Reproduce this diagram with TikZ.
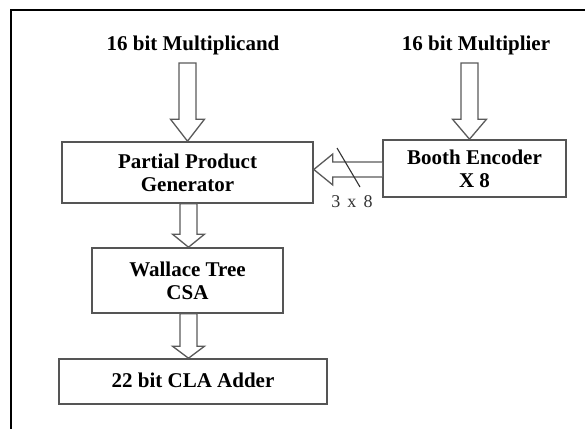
\documentclass[tikz,border=0pt]{standalone}
\usepackage{fontspec}
\setmainfont{Liberation Serif}
\usetikzlibrary{calc}
\definecolor{boxgray}{HTML}{555555}
\definecolor{arrgray}{HTML}{5A5A5A}
\tikzset{
  blockbox/.style={draw=boxgray, line width=1.6pt, rectangle, inner sep=0pt, align=center,
     font=\fontsize{21}{23}\selectfont\bfseries},
  toplabel/.style={font=\fontsize{21}{23}\selectfont\bfseries, inner sep=0pt},
  blk/.style={draw=arrgray, line width=1.3pt, fill=white, line join=miter},
  slashline/.style={draw=black!80, line width=1.1pt},
  buslabel/.style={font=\fontsize{18}{20}\selectfont, inner sep=0pt, color=black!80}
}
% vertical hollow block arrow: #1 start (x taken from here), #2 tip, #3 head length, #4 shaft half width, #5 head half width
\newcommand{\vblockarrow}[5]{%
  \draw[blk] let \p1=(#1), \p2=(#2) in
    (\x1-#4pt,\y1) -- (\x1+#4pt,\y1) -- (\x1+#4pt,\y2+#3pt) -- (\x1+#5pt,\y2+#3pt)
    -- (\x1,\y2) -- (\x1-#5pt,\y2+#3pt) -- (\x1-#4pt,\y2+#3pt) -- cycle;}
\begin{document}
\begin{tikzpicture}[x=1pt,y=-1pt]
\useasboundingbox (0,0) rectangle (585,428);
\fill[white] (0,0) rectangle (585,428);
% outer frame (only left and top edges visible)
\draw[line width=2.8pt, black] (11,430) -- (11,10) -- (587,10);

% labels
\node[toplabel] (mcand) at (193,45) {16 bit Multiplicand};
\node[toplabel] (mplier) at (476,45) {16 bit Multiplier};

% boxes
\node[blockbox, minimum width=251pt, minimum height=61pt] (ppg) at (187.5,172.5) {Partial Product\\Generator};
\node[blockbox, minimum width=183pt, minimum height=57pt] (booth) at (474.5,168.5) {Booth Encoder\\X 8};
\node[blockbox, minimum width=191pt, minimum height=65pt] (wal) at (187.5,280.5) {Wallace Tree\\CSA};
\node[blockbox, minimum width=268pt, minimum height=45pt] (cla) at (193,381.5) {\raisebox{3pt}{22 bit CLA Adder}};

% arrow anchor coordinates
\coordinate (a1) at (187.5,63);
\coordinate (a2) at (469.5,63);
\coordinate (c3) at (188.5,0);
\coordinate (c5) at (0,169.5);

% block arrows
\vblockarrow{a1}{ppg.north -| a1}{22}{8.5}{17}
\vblockarrow{a2}{booth.north -| a2}{20}{8.5}{17}
\vblockarrow{ppg.south -| c3}{wal.north -| c3}{13}{8.5}{16}
\vblockarrow{wal.south -| c3}{cla.north -| c3}{12}{8.5}{16}

% horizontal bus arrow from Booth encoder to PPG
\draw[blk] let \p1=(booth.west |- c5), \p2=(ppg.east |- c5) in
  (\x1,\y1+7.5pt) -- (\x2+19pt,\y1+7.5pt) -- (\x2+19pt,\y1+15.5pt) -- (\x2,\y1)
  -- (\x2+19pt,\y1-15.5pt) -- (\x2+19pt,\y1-7.5pt) -- (\x1,\y1-7.5pt);
\coordinate (s1) at (337,148);
\coordinate (s2) at (360,187);
\draw[slashline] (s1) -- (s2);
\node[buslabel] (bus) at (352,202) {3\hspace{0.4em}x\hspace{0.4em}8};
\end{tikzpicture}
\end{document}
